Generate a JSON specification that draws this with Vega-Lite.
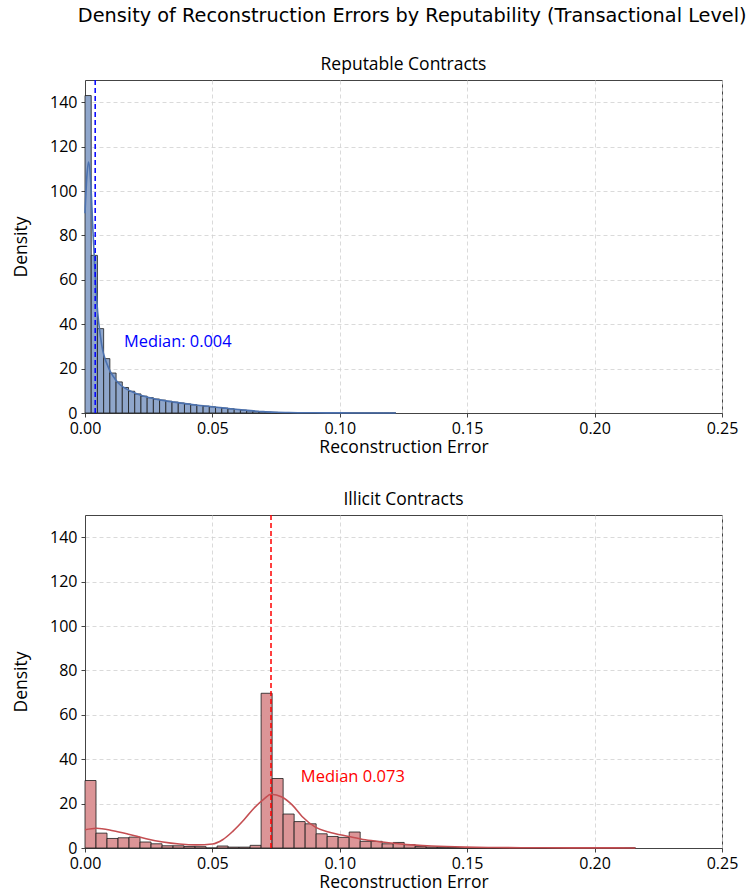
{
  "$schema": "https://vega.github.io/schema/vega-lite/v6.json",
  "background": "white",
  "padding": {"left": 12, "top": 6, "right": 0, "bottom": 0},
  "title": {"text": "Density of Reconstruction Errors by Reputability (Transactional Level)", "font": "DejaVu Sans", "fontSize": 19.3, "fontWeight": "normal", "color": "black", "anchor": "middle", "dx": 37, "offset": 29},
  "datasets": {
    "rep_hist": [
      {"x0": 0, "x1": 0.00244, "density": 143},
      {"x0": 0.00244, "x1": 0.00488, "density": 71},
      {"x0": 0.00488, "x1": 0.00732, "density": 38},
      {"x0": 0.00732, "x1": 0.00976, "density": 24.5},
      {"x0": 0.00976, "x1": 0.0122, "density": 18},
      {"x0": 0.0122, "x1": 0.01464, "density": 14},
      {"x0": 0.01464, "x1": 0.01708, "density": 11.5},
      {"x0": 0.01708, "x1": 0.01952, "density": 9.8},
      {"x0": 0.01952, "x1": 0.02196, "density": 8.6},
      {"x0": 0.02196, "x1": 0.0244, "density": 7.6},
      {"x0": 0.0244, "x1": 0.02684, "density": 6.9},
      {"x0": 0.02684, "x1": 0.02928, "density": 6.3},
      {"x0": 0.02928, "x1": 0.03172, "density": 5.8},
      {"x0": 0.03172, "x1": 0.03416, "density": 5.3},
      {"x0": 0.03416, "x1": 0.0366, "density": 4.9},
      {"x0": 0.0366, "x1": 0.03904, "density": 4.5},
      {"x0": 0.03904, "x1": 0.04148, "density": 4.1},
      {"x0": 0.04148, "x1": 0.04392, "density": 3.7},
      {"x0": 0.04392, "x1": 0.04636, "density": 3.4},
      {"x0": 0.04636, "x1": 0.0488, "density": 3.1},
      {"x0": 0.0488, "x1": 0.05124, "density": 2.8},
      {"x0": 0.05124, "x1": 0.05368, "density": 2.5},
      {"x0": 0.05368, "x1": 0.05612, "density": 2.2},
      {"x0": 0.05612, "x1": 0.05856, "density": 1.9},
      {"x0": 0.05856, "x1": 0.061, "density": 1.6},
      {"x0": 0.061, "x1": 0.06344, "density": 1.3},
      {"x0": 0.06344, "x1": 0.06588, "density": 1.0},
      {"x0": 0.06588, "x1": 0.06832, "density": 0.75},
      {"x0": 0.06832, "x1": 0.07076, "density": 0.55},
      {"x0": 0.07076, "x1": 0.0732, "density": 0.4},
      {"x0": 0.0732, "x1": 0.07564, "density": 0.3},
      {"x0": 0.07564, "x1": 0.07808, "density": 0.22},
      {"x0": 0.07808, "x1": 0.08052, "density": 0.16},
      {"x0": 0.08052, "x1": 0.08296, "density": 0.12},
      {"x0": 0.08296, "x1": 0.0854, "density": 0.09},
      {"x0": 0.0854, "x1": 0.08784, "density": 0.07},
      {"x0": 0.08784, "x1": 0.09028, "density": 0.05},
      {"x0": 0.09028, "x1": 0.09272, "density": 0.04},
      {"x0": 0.09272, "x1": 0.09516, "density": 0.03},
      {"x0": 0.09516, "x1": 0.0976, "density": 0.025},
      {"x0": 0.0976, "x1": 0.10004, "density": 0.02},
      {"x0": 0.10004, "x1": 0.10248, "density": 0.015},
      {"x0": 0.10248, "x1": 0.10492, "density": 0.012},
      {"x0": 0.10492, "x1": 0.10736, "density": 0.01},
      {"x0": 0.10736, "x1": 0.1098, "density": 0.008},
      {"x0": 0.1098, "x1": 0.11224, "density": 0.006},
      {"x0": 0.11224, "x1": 0.11468, "density": 0.005},
      {"x0": 0.11468, "x1": 0.11712, "density": 0.004},
      {"x0": 0.11712, "x1": 0.11956, "density": 0.003},
      {"x0": 0.11956, "x1": 0.122, "density": 0.002}
    ],
    "rep_kde": [
      {"x": 0.0, "y": 90}, {"x": 0.0007, "y": 106}, {"x": 0.0014, "y": 113}, {"x": 0.0022, "y": 105},
      {"x": 0.003, "y": 85}, {"x": 0.004, "y": 62}, {"x": 0.005, "y": 45}, {"x": 0.006, "y": 35},
      {"x": 0.007, "y": 28}, {"x": 0.008, "y": 24}, {"x": 0.009, "y": 21}, {"x": 0.01, "y": 18.5},
      {"x": 0.012, "y": 15}, {"x": 0.014, "y": 12.5}, {"x": 0.016, "y": 11}, {"x": 0.018, "y": 9.8},
      {"x": 0.02, "y": 8.8}, {"x": 0.025, "y": 7}, {"x": 0.03, "y": 5.8}, {"x": 0.035, "y": 4.9},
      {"x": 0.04, "y": 4.1}, {"x": 0.045, "y": 3.4}, {"x": 0.05, "y": 2.8}, {"x": 0.055, "y": 2.2},
      {"x": 0.06, "y": 1.6}, {"x": 0.065, "y": 1.05}, {"x": 0.07, "y": 0.6}, {"x": 0.075, "y": 0.35},
      {"x": 0.08, "y": 0.2}, {"x": 0.09, "y": 0.08}, {"x": 0.1, "y": 0.04}, {"x": 0.11, "y": 0.02},
      {"x": 0.122, "y": 0.01}
    ],
    "ill_hist": [
      {"x0": 0, "x1": 0.00432, "density": 30.4},
      {"x0": 0.00432, "x1": 0.00864, "density": 6.7},
      {"x0": 0.00864, "x1": 0.01296, "density": 4.3},
      {"x0": 0.01296, "x1": 0.01728, "density": 4.6},
      {"x0": 0.01728, "x1": 0.0216, "density": 4.9},
      {"x0": 0.0216, "x1": 0.02592, "density": 2.7},
      {"x0": 0.02592, "x1": 0.03024, "density": 1.9},
      {"x0": 0.03024, "x1": 0.03456, "density": 1.0},
      {"x0": 0.03456, "x1": 0.03888, "density": 1.0},
      {"x0": 0.03888, "x1": 0.0432, "density": 0.7},
      {"x0": 0.0432, "x1": 0.04752, "density": 0.6},
      {"x0": 0.04752, "x1": 0.05184, "density": 0},
      {"x0": 0.05184, "x1": 0.05616, "density": 0.9},
      {"x0": 0.05616, "x1": 0.06048, "density": 0.4},
      {"x0": 0.06048, "x1": 0.0648, "density": 0.4},
      {"x0": 0.0648, "x1": 0.06912, "density": 1.2},
      {"x0": 0.06912, "x1": 0.07344, "density": 69.7},
      {"x0": 0.07344, "x1": 0.07776, "density": 31.3},
      {"x0": 0.07776, "x1": 0.08208, "density": 15.3},
      {"x0": 0.08208, "x1": 0.0864, "density": 11.9},
      {"x0": 0.0864, "x1": 0.09072, "density": 10.9},
      {"x0": 0.09072, "x1": 0.09504, "density": 6.4},
      {"x0": 0.09504, "x1": 0.09936, "density": 5.2},
      {"x0": 0.09936, "x1": 0.10368, "density": 4.8},
      {"x0": 0.10368, "x1": 0.108, "density": 7.2},
      {"x0": 0.108, "x1": 0.11232, "density": 3.0},
      {"x0": 0.11232, "x1": 0.11664, "density": 3.0},
      {"x0": 0.11664, "x1": 0.12096, "density": 1.9},
      {"x0": 0.12096, "x1": 0.12528, "density": 2.5},
      {"x0": 0.12528, "x1": 0.1296, "density": 1.5},
      {"x0": 0.1296, "x1": 0.13392, "density": 0.7},
      {"x0": 0.13392, "x1": 0.13824, "density": 0.45},
      {"x0": 0.13824, "x1": 0.14256, "density": 0.3},
      {"x0": 0.14256, "x1": 0.14688, "density": 0.2},
      {"x0": 0.14688, "x1": 0.1512, "density": 0.15},
      {"x0": 0.1512, "x1": 0.15552, "density": 0.1},
      {"x0": 0.15552, "x1": 0.15984, "density": 0.1},
      {"x0": 0.15984, "x1": 0.16416, "density": 0.05},
      {"x0": 0.16416, "x1": 0.16848, "density": 0.05},
      {"x0": 0.16848, "x1": 0.1728, "density": 0.05},
      {"x0": 0.1728, "x1": 0.17712, "density": 0.05},
      {"x0": 0.17712, "x1": 0.18144, "density": 0},
      {"x0": 0.18144, "x1": 0.18576, "density": 0.05},
      {"x0": 0.18576, "x1": 0.19008, "density": 0},
      {"x0": 0.19008, "x1": 0.1944, "density": 0},
      {"x0": 0.1944, "x1": 0.19872, "density": 0.05},
      {"x0": 0.19872, "x1": 0.20304, "density": 0},
      {"x0": 0.20304, "x1": 0.20736, "density": 0},
      {"x0": 0.20736, "x1": 0.21168, "density": 0},
      {"x0": 0.21168, "x1": 0.216, "density": 0.05}
    ],
    "ill_kde": [
      {"x": 0.0, "y": 8.2}, {"x": 0.0045, "y": 8.9}, {"x": 0.011, "y": 7.8}, {"x": 0.0175, "y": 6.1},
      {"x": 0.024, "y": 4.2}, {"x": 0.0306, "y": 2.7}, {"x": 0.037, "y": 1.8}, {"x": 0.0437, "y": 1.4},
      {"x": 0.05, "y": 1.8}, {"x": 0.054, "y": 3.7}, {"x": 0.058, "y": 7.5}, {"x": 0.0624, "y": 12.7},
      {"x": 0.0663, "y": 17.9}, {"x": 0.0702, "y": 22}, {"x": 0.073, "y": 24.2}, {"x": 0.0773, "y": 23},
      {"x": 0.0813, "y": 19.4}, {"x": 0.0852, "y": 14.2}, {"x": 0.0904, "y": 9.4}, {"x": 0.0956, "y": 7.2},
      {"x": 0.1035, "y": 5.2}, {"x": 0.11, "y": 3.7}, {"x": 0.1166, "y": 2.7}, {"x": 0.123, "y": 1.9},
      {"x": 0.1297, "y": 1.3}, {"x": 0.136, "y": 0.9}, {"x": 0.149, "y": 0.4}, {"x": 0.16, "y": 0.2},
      {"x": 0.18, "y": 0.1}, {"x": 0.2, "y": 0.05}, {"x": 0.216, "y": 0.03}
    ]
  },
  "spacing": 34,
  "vconcat": [
    {
      "title": {"text": "Reputable Contracts"},
      "width": 637,
      "height": 333,
      "layer": [
        {
          "data": {"name": "rep_hist"},
          "mark": {"type": "rect", "fill": "#8fa6cb", "stroke": "#1a1a1a", "strokeWidth": 0.8},
          "encoding": {
            "x": {"field": "x0", "type": "quantitative", "scale": {"domain": [0, 0.25], "nice": false},
                  "axis": {"title": "Reconstruction Error", "values": [0, 0.05, 0.1, 0.15, 0.2, 0.25], "format": ".2f"}},
            "x2": {"field": "x1"},
            "y": {"field": "density", "type": "quantitative", "scale": {"domain": [0, 150], "nice": false},
                  "axis": {"title": "Density", "values": [0, 20, 40, 60, 80, 100, 120, 140]}},
            "y2": {"datum": 0}
          }
        },
        {
          "data": {"name": "rep_kde"},
          "mark": {"type": "line", "color": "#4c72b0", "strokeWidth": 1.6, "interpolate": "monotone"},
          "encoding": {
            "x": {"field": "x", "type": "quantitative"},
            "y": {"field": "y", "type": "quantitative"}
          }
        },
        {
          "data": {"values": [{"median": 0.004}]},
          "mark": {"type": "rule", "color": "blue", "strokeWidth": 1.5, "strokeDash": [5, 3]},
          "encoding": {"x": {"field": "median", "type": "quantitative"}}
        },
        {
          "data": {"values": [{"x": 0.0153, "y": 32, "label": "Median: 0.004"}]},
          "mark": {"type": "text", "color": "blue", "align": "left", "baseline": "middle", "font": "Open Sans", "fontSize": 16.4},
          "encoding": {
            "x": {"field": "x", "type": "quantitative"},
            "y": {"field": "y", "type": "quantitative"},
            "text": {"field": "label"}
          }
        }
      ]
    },
    {
      "title": {"text": "Illicit Contracts"},
      "width": 637,
      "height": 333,
      "layer": [
        {
          "data": {"name": "ill_hist"},
          "mark": {"type": "rect", "fill": "#dc9597", "stroke": "#1a1a1a", "strokeWidth": 0.8},
          "encoding": {
            "x": {"field": "x0", "type": "quantitative", "scale": {"domain": [0, 0.25], "nice": false},
                  "axis": {"title": "Reconstruction Error", "values": [0, 0.05, 0.1, 0.15, 0.2, 0.25], "format": ".2f"}},
            "x2": {"field": "x1"},
            "y": {"field": "density", "type": "quantitative", "scale": {"domain": [0, 150], "nice": false},
                  "axis": {"title": "Density", "values": [0, 20, 40, 60, 80, 100, 120, 140]}},
            "y2": {"datum": 0}
          }
        },
        {
          "data": {"name": "ill_kde"},
          "mark": {"type": "line", "color": "#c44e52", "strokeWidth": 1.6, "interpolate": "monotone"},
          "encoding": {
            "x": {"field": "x", "type": "quantitative"},
            "y": {"field": "y", "type": "quantitative"}
          }
        },
        {
          "data": {"values": [{"median": 0.073}]},
          "mark": {"type": "rule", "color": "red", "strokeWidth": 1.5, "strokeDash": [5, 3]},
          "encoding": {"x": {"field": "median", "type": "quantitative"}}
        },
        {
          "data": {"values": [{"x": 0.0847, "y": 32, "label": "Median 0.073"}]},
          "mark": {"type": "text", "color": "red", "align": "left", "baseline": "middle", "font": "Open Sans", "fontSize": 16.5},
          "encoding": {
            "x": {"field": "x", "type": "quantitative"},
            "y": {"field": "y", "type": "quantitative"},
            "text": {"field": "label"}
          }
        }
      ]
    }
  ],
  "config": {
    "view": {"stroke": "#444", "strokeWidth": 1},
    "title": {"font": "Open Sans", "fontSize": 17.5, "fontWeight": "normal", "color": "black", "offset": 6},
    "axis": {
      "labelFont": "Open Sans", "labelFontSize": 16, "labelColor": "black",
      "titleFont": "Open Sans", "titleFontSize": 17.5, "titleFontWeight": "normal", "titleColor": "black",
      "domainColor": "#444", "tickColor": "#444", "tickSize": 4,
      "gridColor": "#d0d0d0", "gridDash": [4, 3], "gridWidth": 0.8,
      "labelPadding": 3, "titlePadding": 2
    },
    "axisX": {"labelFlush": false, "labelDx": 4},
    "axisY": {"titlePadding": 19, "labelPadding": 4},
    "concat": {"spacing": 34}
  }
}
